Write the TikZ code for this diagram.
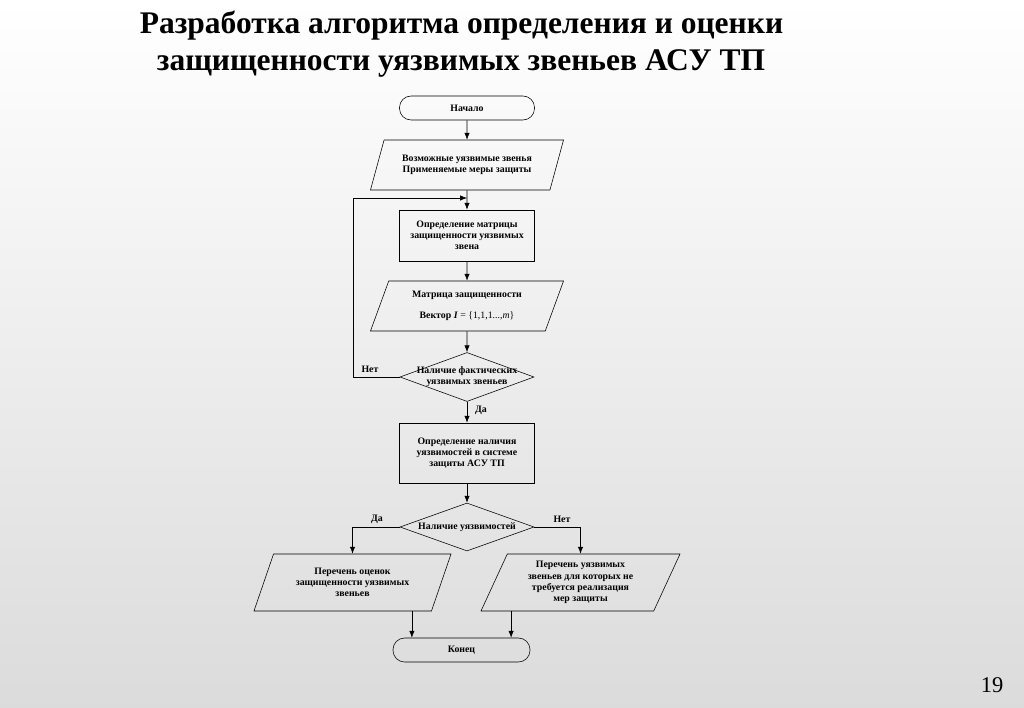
\documentclass[tikz,border=0pt]{standalone}
\usepackage{fontspec}
\setmainfont{Liberation Serif}
\usetikzlibrary{shapes.geometric,arrows.meta}

\tikzset{
	txt/.style={font=\fontsize{7}{8}\selectfont\bfseries, align=center},
	term/.style={txt, draw, rounded corners=2.9mm, minimum width=3.375cm, minimum height=0.6cm},
	proc/.style={txt, draw, minimum width=3.375cm, minimum height=1.275cm},
	io/.style={txt, draw, trapezium, trapezium left angle=65, trapezium right angle=115, trapezium stretches body=true, minimum width=4.825cm, minimum height=1.25cm, inner xsep=0pt},
	cond/.style={draw, diamond, minimum width=3.35cm, minimum height=1.225cm, inner sep=0pt},
	flow/.style={-{Latex[length=1.7mm,width=1.3mm]}},
	titletxt/.style={font=\fontsize{22.4}{26}\selectfont\bfseries, anchor=base}
}

\begin{document}
\begin{tikzpicture}[x=0.025cm, y=-0.025cm]
			%%%%% START %%%%%
			
			\shade[top color=white, bottom color=gray!28] (0, 0) rectangle (1024, 708);
			
			\node[titletxt] (title1) at (461.5, 34) {Разработка алгоритма определения и оценки};
			\node[titletxt] (title2) at (461, 71) {защищенности уязвимых звеньев АСУ ТП};
			
			\node[term] (start) at (467, 108) {Начало};
			\node[io] (in1) at (467, 165) {Возможные уязвимые звенья\\Применяемые меры защиты};
			\node[proc] (mtx) at (467, 235.5) {Определение матрицы\\защищенности уязвимых\\звена};
			\node[io] (vec) at (467, 306) {Матрица защищенности\\[2.5mm]Вектор \textit{I} {\mdseries = \{1,1,1...,\textit{m}\}}};
			
			\node[cond] (d1) at (467, 377) {};
			\node[txt] (d1txt) at (d1) {Наличие фактических\\уязвимых звеньев};
			
			\node[proc, minimum height=1.5cm] (chk) at (467, 453) {Определение наличия\\уязвимостей в системе\\защиты АСУ ТП};
			
			\node[cond, minimum height=1.2cm] (d2) at (467, 527) {};
			\node[txt] (d2txt) at (d2) {Наличие уязвимостей};
			
			\node[io, trapezium left angle=63, trapezium right angle=117, minimum width=4.925cm, minimum height=1.425cm] (ev) at (352.5, 582.5) {Перечень оценок\\защищенности уязвимых\\звеньев};
			\node[io, trapezium left angle=63, trapezium right angle=117, minimum width=4.975cm, minimum height=1.425cm] (nr) at (580.5, 582.5) {Перечень уязвимых\\звеньев для которых не\\требуется реализация\\мер защиты};
			
			\node[term, minimum width=3.425cm] (stop) at (461.5, 650) {Конец};
			
			\node[txt] (no1) at (370, 369) {Нет};
			\node[txt] (yes1) at (481, 410) {Да};
			\node[txt] (yes2) at (377, 519) {Да};
			\node[txt] (no2) at (562, 519) {Нет};
			
			\node[font=\fontsize{16}{18}\selectfont, anchor=base] (page) at (992, 692) {19};
			
			% main line
			\draw[flow] (start) -- (in1);
			\draw[flow] (in1) -- (mtx);
			\draw[flow] (mtx) -- (vec);
			\draw[flow] (vec) -- (d1);
			\draw[flow] (d1) -- (chk);
			\draw[flow] (chk) -- (d2);
			
			% loop back
			\coordinate (join) at (467, 198);
			\draw[flow] (d1.west) -- ++(-46, 0) |- (join);
			
			% branches
			\draw[flow] (d2.west) -| (ev);
			\draw[flow] (d2.east) -| (nr);
			
			\coordinate (l1) at ([xshift=-1.24cm]stop.north);
			\coordinate (r1) at ([xshift=1.24cm]stop.north);
			\draw[flow] (l1 |- ev.south) -- (l1);
			\draw[flow] (r1 |- nr.south) -- (r1);
			
			%%%%% END %%%%%
		\end{tikzpicture}
\end{document}
